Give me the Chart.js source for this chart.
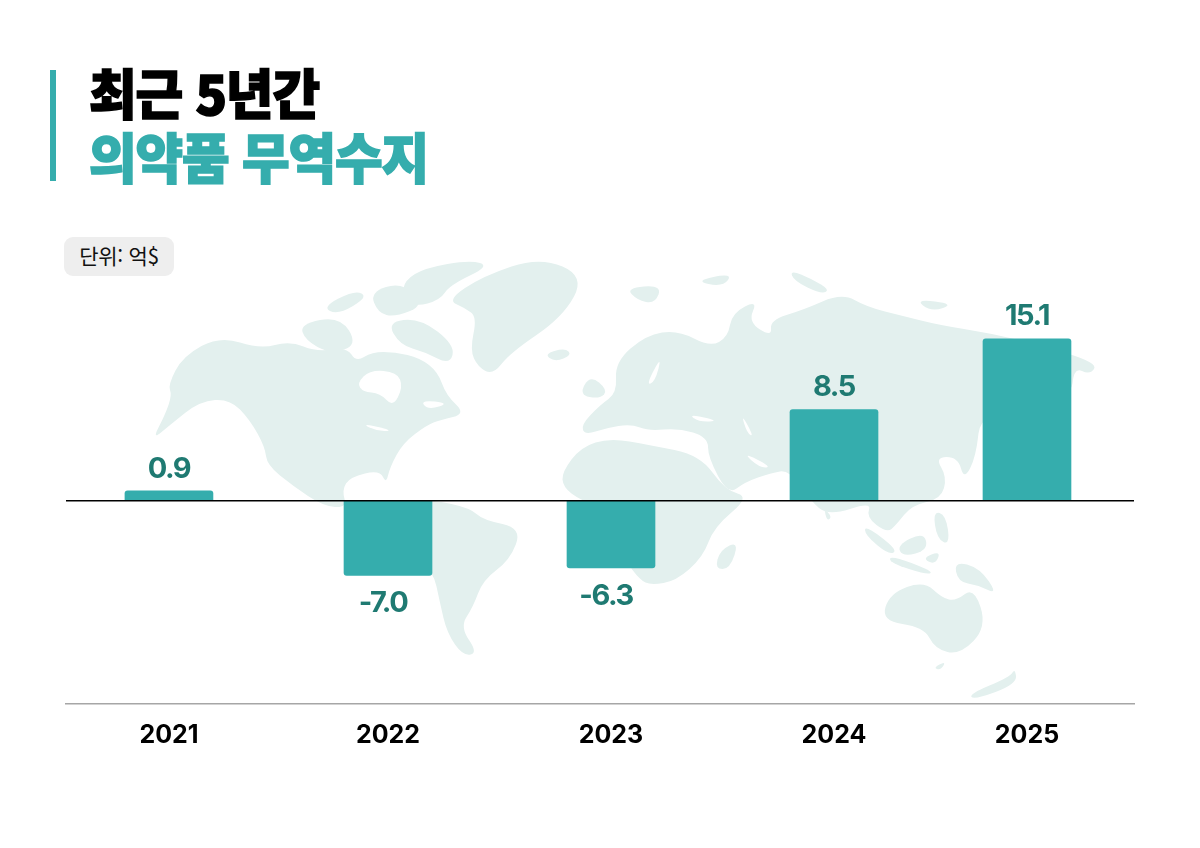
<!DOCTYPE html>
<html lang="ko">
<head>
<meta charset="utf-8">
<title>최근 5년간 의약품 무역수지</title>
<script src="https://cdn.jsdelivr.net/npm/chart.js@4"></script>
<style>
html,body{margin:0;padding:0;background:#fff;width:1200px;height:848px;overflow:hidden}
#stage{position:relative;width:1200px;height:848px}
canvas{position:absolute;left:0;top:0}
.rule{position:absolute;left:50px;top:70px;width:6px;height:111px;background:#35adad}
.t{position:absolute;left:89px;font-family:"Noto Sans CJK KR";font-weight:900;font-size:54px;line-height:64px;white-space:nowrap;letter-spacing:-1.2px;-webkit-text-stroke:1.6px currentColor;transform:scaleX(.96);transform-origin:left center}
.t1{top:60px;color:#000}
.t2{top:124px;color:#35adad}
.unit{position:absolute;left:64px;top:237px;width:110px;height:39px;border-radius:9px;background:#eeeeee;color:#111;font-family:"Noto Sans CJK KR";font-size:21px;line-height:37px;text-align:center;letter-spacing:-.3px}
</style>
</head>
<body>
<div id="stage">
<canvas id="c" width="1200" height="848"></canvas>
<div class="rule"></div>
<div class="t t1">최근 5년간</div>
<div class="t t2">의약품 무역수지</div>
<div class="unit">단위: 억$</div>
</div>
<script>
const years = ['2021','2022','2023','2024','2025'];
const balance = [0.9,-7.0,-6.3,8.5,15.1];
const valueLabels = ['0.9','-7.0','-6.3','8.5','15.1'];

/* layout: column centres as a fraction of the plot width (the reference spaces them unevenly) */
const columnFractions = [0.0964,0.3015,0.5103,0.7191,0.8998];

class SpacedCategoryScale extends Chart.CategoryScale {
  getPixelForValue(value){
    const i = typeof value === 'number' ? value : this.parse(value);
    return this.left + columnFractions[i]*this.width;
  }
}
SpacedCategoryScale.id = 'spacedCategory';
SpacedCategoryScale.defaults = Chart.CategoryScale.defaults;
Chart.register(SpacedCategoryScale);

/* decorative backdrop: rough world map outlines, page pixels */
const land = [
 [[168,385],[183,356],[220,336],[260,349],[290,341],[317,352],[347,347],[356,362],[372,352],[395,352],[420,358],[438,372],[446,395],[466,414],[440,420],[427,425],[403,443],[390,467],[386,484],[380,470],[350,477],[342,490],[347,508],[323,506],[293,486],[267,465],[265,447],[250,420],[230,399],[200,401],[170,425],[152,440],[165,415],[172,395]],
 [[410,500],[433,500],[470,508],[483,520],[522,528],[510,560],[483,580],[473,607],[460,627],[478,653],[463,656],[447,633],[440,603],[433,570],[410,560]],
 [[447,300],[483,276],[540,257],[585,276],[563,317],[510,353],[493,375],[478,367],[470,350],[477,317],[465,308]],
 [[405,280],[425,268],[470,260],[490,266],[450,285],[440,300],[415,307],[402,296]],
 [[387,322],[420,318],[455,345],[450,365],[425,352],[400,345]],
 [[300,324],[340,316],[358,345],[330,354],[305,340]],
 [[322,307],[355,290],[368,297],[338,315]],
 [[370,292],[402,282],[425,305],[395,317],[378,313]],
 [[544,354],[565,348],[572,355],[555,362]],
 [[581,425],[600,405],[617,393],[615,362],[646,335],[678,330],[710,347],[728,337],[732,313],[758,300],[748,322],[772,337],[770,320],[803,310],[842,293],[867,307],[903,316],[939,325],[989,333],[1040,345],[1098,363],[1090,375],[1074,367],[1071,400],[981,410],[976,457],[964,480],[958,457],[935,457],[947,477],[941,499],[912,505],[896,525],[887,533],[866,517],[872,502],[828,516],[810,500],[789,470],[771,473],[745,482],[728,495],[708,457],[708,437],[678,428],[649,431],[631,424],[606,428],[585,435]],
 [[562,472],[581,447],[610,438],[649,445],[700,455],[725,490],[750,497],[714,527],[703,557],[676,581],[651,585],[640,580],[625,560],[610,510],[580,500],[563,487]],
 [[739,541],[730,569],[715,569],[720,550]],
 [[881,621],[890,593],[924,581],[942,598],[956,601],[974,587],[987,627],[960,655],[935,649],[924,627]],
 [[933,668],[946,661],[941,670]],
 [[969,694],[1010,677],[1015,668],[1017,684],[974,700]],
 [[865,525],[898,550],[889,555],[865,535]],
 [[890,555],[933,571],[928,575],[890,563]],
 [[897,545],[924,532],[928,550],[903,557]],
 [[922,558],[941,551],[935,565]],
 [[954,561],[980,568],[998,595],[978,585],[958,582]],
 [[933,511],[946,515],[950,545],[937,539]],
 [[824,508],[832,517],[827,521]],
 [[590,375],[608,390],[600,399],[579,395]],
 [[626,288],[662,285],[655,304],[637,300]],
 [[694,281],[733,273],[723,287]],
 [[790,270],[812,279],[830,290],[821,294],[794,281]],
 [[915,299],[955,304],[931,312]]
];
const water = [
 [[357,383],[370,370],[397,372],[403,387],[393,407],[380,393],[363,392]],
 [[362,424],[380,427],[392,431],[377,431]],
 [[688,414],[720,421],[699,422]],
 [[741,413],[754,437],[747,433]],
 [[742,452],[772,467],[760,468]],
 [[662,355],[646,385],[655,382]],
 [[420,400],[450,403],[428,410]]
];
const mapBackdrop = {
  id:'mapBackdrop',
  beforeDraw(chart){
    const g = chart.ctx;
    /* closed outline rounded through the midpoints of its sides */
    const trace = p => {
      const mid = (a,b)=>[(a[0]+b[0])/2,(a[1]+b[1])/2];
      const start = mid(p[p.length-1],p[0]);
      g.beginPath(); g.moveTo(start[0],start[1]);
      p.forEach((q,i)=>{ const m = mid(q,p[(i+1)%p.length]); g.quadraticCurveTo(q[0],q[1],m[0],m[1]); });
      g.closePath(); g.fill();
    };
    g.save();
    g.fillStyle='#e3f0ee'; land.forEach(trace);
    g.fillStyle='#ffffff'; water.forEach(trace);
    g.restore();
  }
};
const barValues = {
  id:'barValues',
  afterDatasetsDraw(chart){
    const g = chart.ctx, meta = chart.getDatasetMeta(0);
    g.save();
    g.font='700 29px Inter';
    g.letterSpacing='-1.5px';
    g.fillStyle='#1f7a72';
    g.textAlign='center'; g.textBaseline='middle';
    meta.data.forEach((bar,i)=>{
      const neg = balance[i]<0;
      g.fillText(valueLabels[i], bar.x + (neg?-5:0), bar.y + (neg?28:-22));
    });
    g.restore();
  }
};

new Chart(document.getElementById('c'),{
  type:'bar',
  data:{labels:years,datasets:[{data:balance,backgroundColor:'#35adad',borderRadius:3,barThickness:88}]},
  plugins:[mapBackdrop,barValues],
  options:{
    responsive:false,animation:false,
    layout:{padding:{left:66,right:66,top:297,bottom:0}},
    plugins:{legend:{display:false},title:{display:false},tooltip:{enabled:false}},
    scales:{
      x:{type:'spacedCategory',
         grid:{display:false},
         border:{display:true,color:'#a6a6a6',width:1.5},
         ticks:{color:'#000',font:{family:'Inter',weight:'700',size:25},padding:8,autoSkip:false,maxRotation:0,minRotation:0},
         afterFit(s){s.height=144;}},
      y:{min:-19,max:19,
         afterFit(s){s.width=0;},
         afterBuildTicks(s){s.ticks=[{value:0}];},
         border:{display:false},
         grid:{drawTicks:false,color:'#000',lineWidth:1.5,z:1},
         ticks:{display:false}}
    }
  }
});
</script>
</body>
</html>
